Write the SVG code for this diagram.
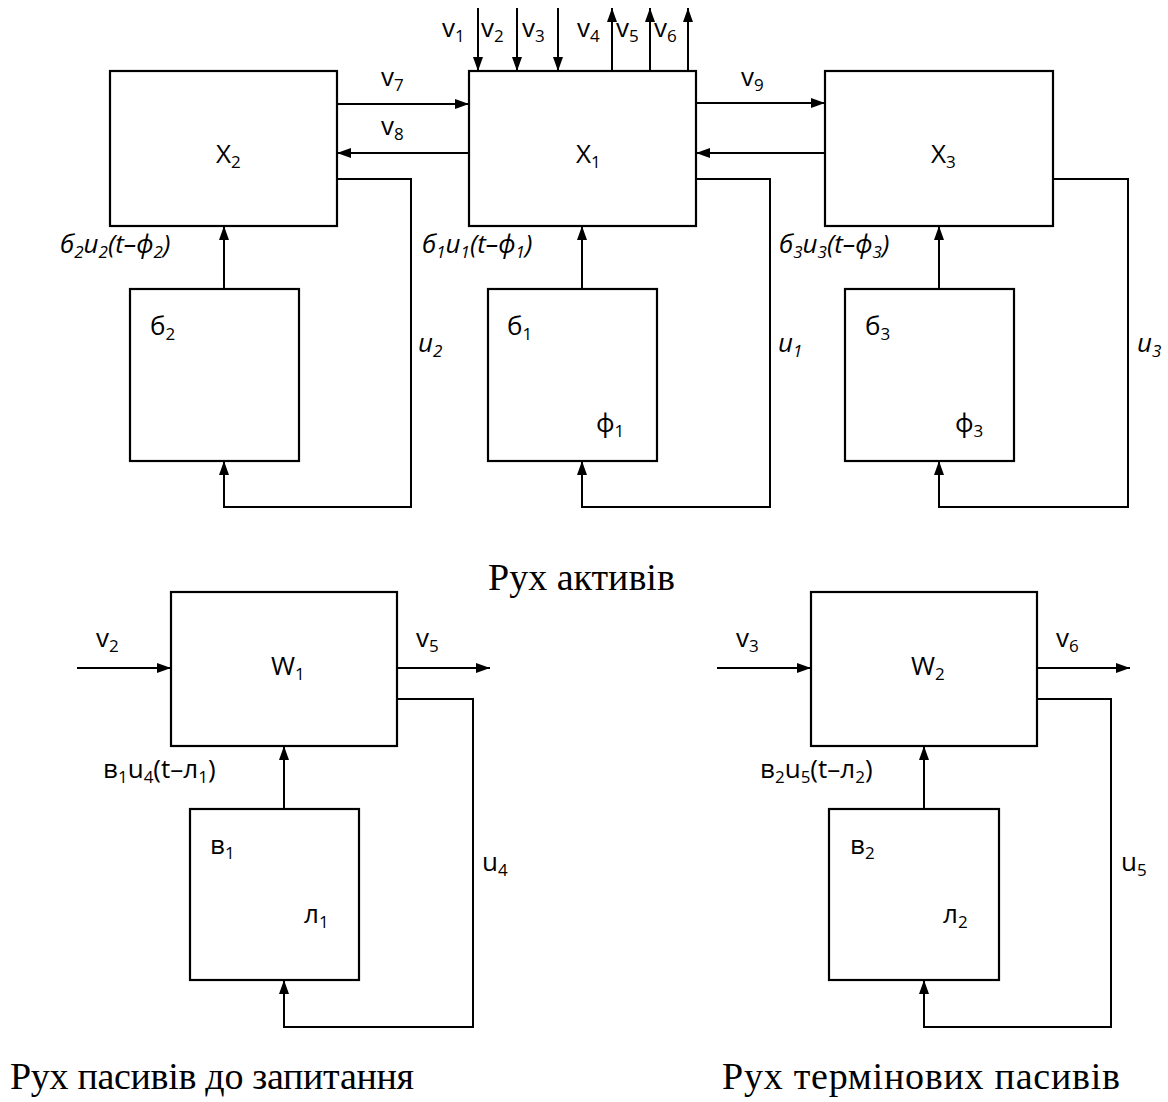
<svg xmlns="http://www.w3.org/2000/svg" width="1168" height="1102" viewBox="0 0 1168 1102">
<defs>
<marker id="ah" markerUnits="userSpaceOnUse" markerWidth="15" markerHeight="11" refX="14" refY="5" orient="auto">
<path d="M0,0 L14,5 L0,10 z" fill="#000"/>
</marker>
<style>
.box{fill:#fff;stroke:#000;stroke-width:2.2}
.c{fill:none;stroke:#000;stroke-width:2}
.a{marker-end:url(#ah)}
text{font-family:"Open Sans","Noto Sans",sans-serif;font-size:26px;fill:#000}
.i{font-style:italic}
.s{font-size:17px}
.cap{font-family:"Liberation Serif","Times New Roman",serif;font-size:38px}
</style>
</defs>
<rect width="1168" height="1102" fill="#fff"/>

<g id="connectors">
<line class="c a" x1="478" y1="8" x2="478" y2="71"/>
<line class="c a" x1="517" y1="8" x2="517" y2="71"/>
<line class="c a" x1="558" y1="8" x2="558" y2="71"/>
<line class="c a" x1="612" y1="71" x2="612" y2="8"/>
<line class="c a" x1="650" y1="71" x2="650" y2="8"/>
<line class="c a" x1="688" y1="71" x2="688" y2="8"/>
<line class="c a" x1="337" y1="104" x2="469" y2="104"/>
<line class="c a" x1="469" y1="153" x2="337" y2="153"/>
<line class="c a" x1="696" y1="103" x2="825" y2="103"/>
<line class="c a" x1="825" y1="153" x2="696" y2="153"/>
<path class="c a" d="M337,179 H411 V507 H224 V461"/>
<line class="c a" x1="224" y1="289" x2="224" y2="226"/>
<path class="c a" d="M696,179 H770 V507 H582 V461"/>
<line class="c a" x1="582" y1="289" x2="582" y2="226"/>
<path class="c a" d="M1053,179 H1128 V507 H939 V461"/>
<line class="c a" x1="939" y1="289" x2="939" y2="226"/>
<line class="c a" x1="77" y1="668" x2="171" y2="668"/>
<line class="c a" x1="397" y1="668" x2="490" y2="668"/>
<path class="c a" d="M397,699 H473 V1027 H284 V980"/>
<line class="c a" x1="284" y1="809" x2="284" y2="746"/>
<line class="c a" x1="717" y1="668" x2="811" y2="668"/>
<line class="c a" x1="1037" y1="668" x2="1130" y2="668"/>
<path class="c a" d="M1037,699 H1111 V1027 H924 V980"/>
<line class="c a" x1="924" y1="809" x2="924" y2="746"/>
</g>

<g id="X2"><rect class="box" x="110" y="71" width="227" height="155"/><text x="216" y="163">X<tspan class="s" dy="5">2</tspan></text></g>
<g id="X1"><rect class="box" x="469" y="71" width="227" height="155"/><text x="576" y="163">X<tspan class="s" dy="5">1</tspan></text></g>
<g id="X3"><rect class="box" x="825" y="71" width="228" height="155"/><text x="931" y="163">X<tspan class="s" dy="5">3</tspan></text></g>

<g id="b2"><rect class="box" x="130" y="289" width="169" height="172"/><text x="150" y="335">б<tspan class="s" dy="5">2</tspan></text></g>
<g id="b1"><rect class="box" x="488" y="289" width="169" height="172"/><text x="507" y="335">б<tspan class="s" dy="5">1</tspan></text><text x="596" y="432">ф<tspan class="s" dy="5">1</tspan></text></g>
<g id="b3"><rect class="box" x="845" y="289" width="169" height="172"/><text x="865" y="335">б<tspan class="s" dy="5">3</tspan></text><text x="955" y="432">ф<tspan class="s" dy="5">3</tspan></text></g>

<g id="W1"><rect class="box" x="171" y="592" width="226" height="154"/><text x="271" y="675">W<tspan class="s" dy="5">1</tspan></text></g>
<g id="W2"><rect class="box" x="811" y="592" width="226" height="154"/><text x="911" y="675">W<tspan class="s" dy="5">2</tspan></text></g>
<g id="v1box"><rect class="box" x="190" y="809" width="169" height="171"/><text x="210" y="854">в<tspan class="s" dy="5">1</tspan></text><text x="304" y="923">л<tspan class="s" dy="5">1</tspan></text></g>
<g id="v2box"><rect class="box" x="829" y="809" width="170" height="171"/><text x="850" y="854">в<tspan class="s" dy="5">2</tspan></text><text x="943" y="923">л<tspan class="s" dy="5">2</tspan></text></g>

<g id="labels">
<text x="442" y="37">v<tspan class="s" dy="5">1</tspan></text>
<text x="481" y="37">v<tspan class="s" dy="5">2</tspan></text>
<text x="522" y="37">v<tspan class="s" dy="5">3</tspan></text>
<text x="577" y="37">v<tspan class="s" dy="5">4</tspan></text>
<text x="616" y="37">v<tspan class="s" dy="5">5</tspan></text>
<text x="654" y="37">v<tspan class="s" dy="5">6</tspan></text>
<text x="381" y="86">v<tspan class="s" dy="5">7</tspan></text>
<text x="381" y="135">v<tspan class="s" dy="5">8</tspan></text>
<text x="741" y="86">v<tspan class="s" dy="5">9</tspan></text>
<text class="i" x="60" y="253">б<tspan class="s" dy="5">2</tspan><tspan dy="-5">u</tspan><tspan class="s" dy="5">2</tspan><tspan dy="-5">(t–ф</tspan><tspan class="s" dy="5">2</tspan><tspan dy="-5">)</tspan></text>
<text class="i" x="422" y="253">б<tspan class="s" dy="5">1</tspan><tspan dy="-5">u</tspan><tspan class="s" dy="5">1</tspan><tspan dy="-5">(t–ф</tspan><tspan class="s" dy="5">1</tspan><tspan dy="-5">)</tspan></text>
<text class="i" x="779" y="253">б<tspan class="s" dy="5">3</tspan><tspan dy="-5">u</tspan><tspan class="s" dy="5">3</tspan><tspan dy="-5">(t–ф</tspan><tspan class="s" dy="5">3</tspan><tspan dy="-5">)</tspan></text>
<text class="i" x="418" y="352">u<tspan class="s" dy="5">2</tspan></text>
<text class="i" x="778" y="352">u<tspan class="s" dy="5">1</tspan></text>
<text class="i" x="1137" y="352">u<tspan class="s" dy="5">3</tspan></text>
<text class="cap" x="488" y="590">Рух активів</text>
<text x="96" y="647">v<tspan class="s" dy="5">2</tspan></text>
<text x="416" y="647">v<tspan class="s" dy="5">5</tspan></text>
<text x="736" y="647">v<tspan class="s" dy="5">3</tspan></text>
<text x="1056" y="647">v<tspan class="s" dy="5">6</tspan></text>
<text x="103" y="778">в<tspan class="s" dy="5">1</tspan><tspan dy="-5">u</tspan><tspan class="s" dy="5">4</tspan><tspan dy="-5">(t–л</tspan><tspan class="s" dy="5">1</tspan><tspan dy="-5">)</tspan></text>
<text x="760" y="778">в<tspan class="s" dy="5">2</tspan><tspan dy="-5">u</tspan><tspan class="s" dy="5">5</tspan><tspan dy="-5">(t–л</tspan><tspan class="s" dy="5">2</tspan><tspan dy="-5">)</tspan></text>
<text x="482" y="871">u<tspan class="s" dy="5">4</tspan></text>
<text x="1121" y="871">u<tspan class="s" dy="5">5</tspan></text>
<text class="cap" x="10" y="1089" textLength="404">Рух пасивів до запитання</text>
<text class="cap" x="722" y="1089" textLength="398">Рух термінових пасивів</text>
</g>
</svg>
